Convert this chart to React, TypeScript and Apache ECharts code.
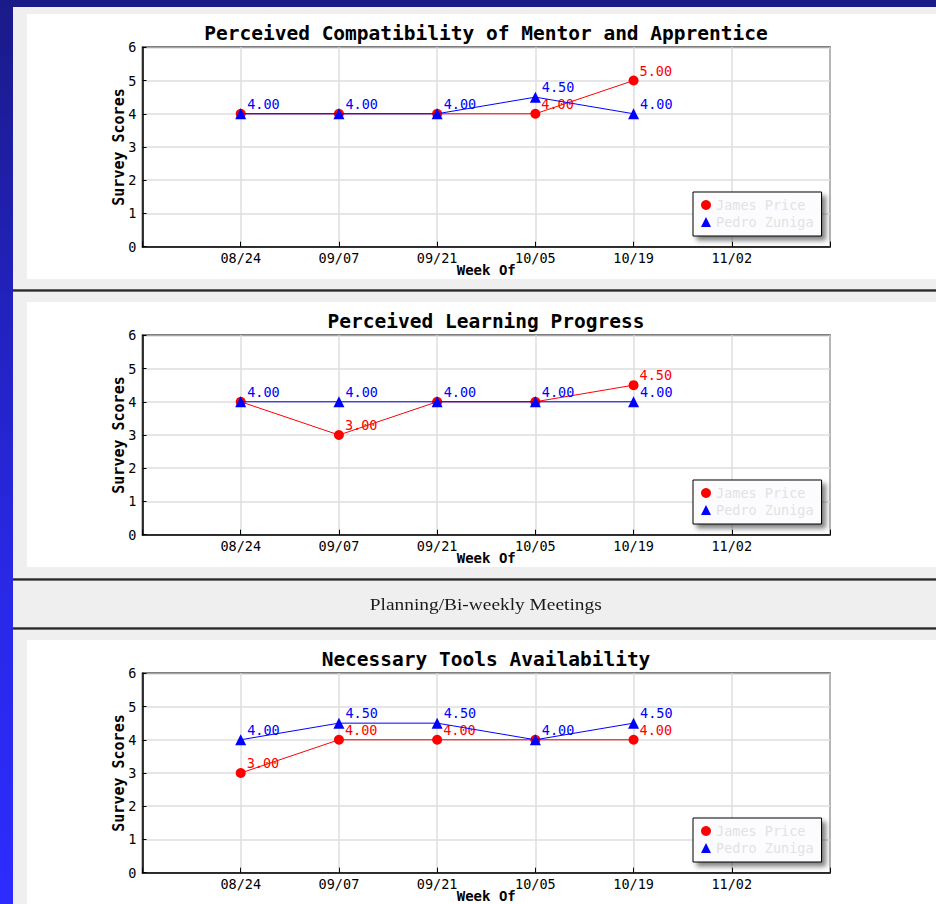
import React, { useEffect, useRef } from "react";
import * as echarts from "echarts";

// ---- data ----
const axisDates = ["08/24", "09/07", "09/21", "10/05", "10/19", "11/02"];
const weeks = ["08/24", "09/07", "09/21", "10/05", "10/19"];
const seriesNames = ["James Price", "Pedro Zuniga"];

const chart1Title = "Perceived Compatibility of Mentor and Apprentice";
const chart1James = [4, 4, 4, 4, 5];
const chart1Pedro = [4, 4, 4, 4.5, 4];

const chart2Title = "Perceived Learning Progress";
const chart2James = [4, 3, 4, 4, 4.5];
const chart2Pedro = [4, 4, 4, 4, 4];

const chart3Title = "Necessary Tools Availability";
const chart3James = [3, 4, 4, 4, 4];
const chart3Pedro = [4, 4.5, 4.5, 4, 4.5];

const sectionLabel = "Planning/Bi-weekly Meetings";
const xAxisName = "Week Of";
const yAxisName = "Survey Scores";

const MONO = "'DejaVu Sans Mono', 'Liberation Mono', monospace";

function buildOption(title: string, james: number[], pedro: number[]) {
  const labelFmt = (p: any) => Number(p.value[1]).toFixed(2);
  // points; a label is hidden when the other (top-drawn) series has the same value there
  const toPoints = (vals: number[], other: number[] | null) =>
    weeks.map((w, i) => {
      const item: any = { value: [axisDates.indexOf(w) + 1, vals[i]] };
      if (other && other[i] === vals[i]) item.label = { show: false };
      return item;
    });
  const mkSeries = (
    name: string,
    vals: number[],
    other: number[] | null,
    color: string,
    symbol: string,
    size: number,
    z: number
  ) => ({
    name,
    type: "line",
    data: toPoints(vals, other),
    symbol,
    symbolSize: size,
    z,
    itemStyle: { color },
    lineStyle: { color, width: 1 },
    emphasis: { disabled: true },
    label: {
      show: true,
      position: "right",
      distance: 1,
      offset: [0, -10],
      formatter: labelFmt,
      color,
      fontFamily: MONO,
      fontSize: 13.5,
    },
  });
  return {
    animation: false,
    textStyle: { fontFamily: MONO },
    title: {
      text: title,
      left: 459,
      top: 9,
      textAlign: "center",
      padding: 0,
      textStyle: { fontFamily: MONO, fontWeight: "bold", fontSize: 19.5, color: "#000" },
    },
    grid: {
      left: 115.5,
      top: 33.3,
      right: 106,
      bottom: 32.3,
      outerBoundsMode: "none",
      containLabel: false,
      show: true,
      borderColor: "#000",
      borderWidth: 1.5,
      backgroundColor: "transparent",
    },
    legend: {
      orient: "vertical",
      left: 666,
      top: 178,
      padding: [6, 8, 7, 8],
      itemGap: 3,
      itemWidth: 10,
      itemHeight: 10,
      selectedMode: false,
      backgroundColor: "#fcfcff",
      borderColor: "#000",
      borderWidth: 1,
      shadowColor: "rgba(0,0,0,0.5)",
      shadowBlur: 5,
      shadowOffsetX: 4,
      shadowOffsetY: 4,
      textStyle: { fontFamily: MONO, fontSize: 13.5, color: "#e2e2e2", lineHeight: 14 },
      data: [
        { name: seriesNames[0], icon: "circle" },
        { name: seriesNames[1], icon: "triangle" },
      ],
    },
    xAxis: {
      type: "value",
      min: 0,
      max: axisDates.length + 1,
      interval: 1,
      name: xAxisName,
      nameLocation: "middle",
      nameGap: 17.5,
      nameMoveOverlap: false,
      nameTextStyle: { fontFamily: MONO, fontWeight: "bold", fontSize: 14, lineHeight: 11, color: "#000" },
      axisLine: { show: true, lineStyle: { color: "#000", width: 1.5 } },
      axisTick: { show: true, inside: true, length: 5, lineStyle: { color: "#000", width: 1 } },
      axisLabel: {
        margin: 4,
        fontFamily: MONO,
        fontSize: 13.5,
        color: "#000",
        showMinLabel: true,
        showMaxLabel: true,
        formatter: (v: number) => (v >= 1 && v <= axisDates.length ? axisDates[v - 1] : ""),
      },
      splitLine: { show: true, lineStyle: { color: "#dedede", width: 1.5 } },
    },
    yAxis: {
      type: "value",
      min: 0,
      max: 6,
      interval: 1,
      name: yAxisName,
      nameLocation: "middle",
      nameGap: 16,
      nameMoveOverlap: false,
      nameTextStyle: { fontFamily: MONO, fontWeight: "bold", fontSize: 15, color: "#000" },
      axisLine: { show: true, lineStyle: { color: "#000", width: 1.5 } },
      axisTick: { show: true, inside: true, length: 4, lineStyle: { color: "#000", width: 1 } },
      axisLabel: { margin: 6, fontFamily: MONO, fontSize: 13.5, color: "#000" },
      splitLine: { show: true, lineStyle: { color: "#dedede", width: 1.5 } },
    },
    series: [
      mkSeries(seriesNames[0], james, pedro, "#ff0000", "circle", 10, 2),
      mkSeries(seriesNames[1], pedro, null, "#0000ff", "triangle", 11, 3),
    ],
  };
}

function Chart(props: { title: string; james: number[]; pedro: number[]; top: number }) {
  const ref = useRef<HTMLDivElement>(null);
  useEffect(() => {
    if (!ref.current) return;
    const chart = echarts.init(ref.current, undefined, { renderer: "svg" });
    chart.setOption(buildOption(props.title, props.james, props.pedro) as any);
    return () => chart.dispose();
  }, [props.title, props.james, props.pedro]);
  return (
    <div
      ref={ref}
      style={{
        position: "absolute",
        left: 27,
        top: props.top,
        width: 909,
        height: 265,
        background: "#ffffff",
      }}
    />
  );
}

function Separator(props: { top: number }) {
  return (
    <div
      style={{
        position: "absolute",
        left: 13,
        top: props.top,
        width: 923,
        height: 3,
        background: "linear-gradient(to bottom, #8a8a8a 0%, #2a2a2a 40%, #2a2a2a 65%, #b0b0b0 100%)",
      }}
    />
  );
}

export default function App() {
  return (
    <div
      style={{
        position: "absolute",
        left: 0,
        top: 0,
        width: 936,
        height: 904,
        overflow: "hidden",
        background: "linear-gradient(to bottom, #1a1a88 0%, #2121b8 30%, #2828e4 62%, #2c2cff 100%)",
      }}
    >
      <div
        style={{
          position: "absolute",
          left: 13,
          top: 7,
          width: 923,
          height: 897,
          background: "#efefef",
        }}
      />
      <Chart title={chart1Title} james={chart1James} pedro={chart1Pedro} top={14} />
      <Separator top={289} />
      <Chart title={chart2Title} james={chart2James} pedro={chart2Pedro} top={302} />
      <Separator top={578} />
      <div
        style={{
          position: "absolute",
          left: 0,
          top: 590,
          width: 972,
          height: 30,
          lineHeight: "30px",
          textAlign: "center",
          fontFamily: "'Liberation Serif', 'DejaVu Serif', serif",
          fontSize: 17,
          color: "#1a1a1a",
        }}
      >
        <span style={{ display: "inline-block", transform: "scaleX(1.14)" }}>{sectionLabel}</span>
      </div>
      <Separator top={627} />
      <Chart title={chart3Title} james={chart3James} pedro={chart3Pedro} top={640} />
    </div>
  );
}
